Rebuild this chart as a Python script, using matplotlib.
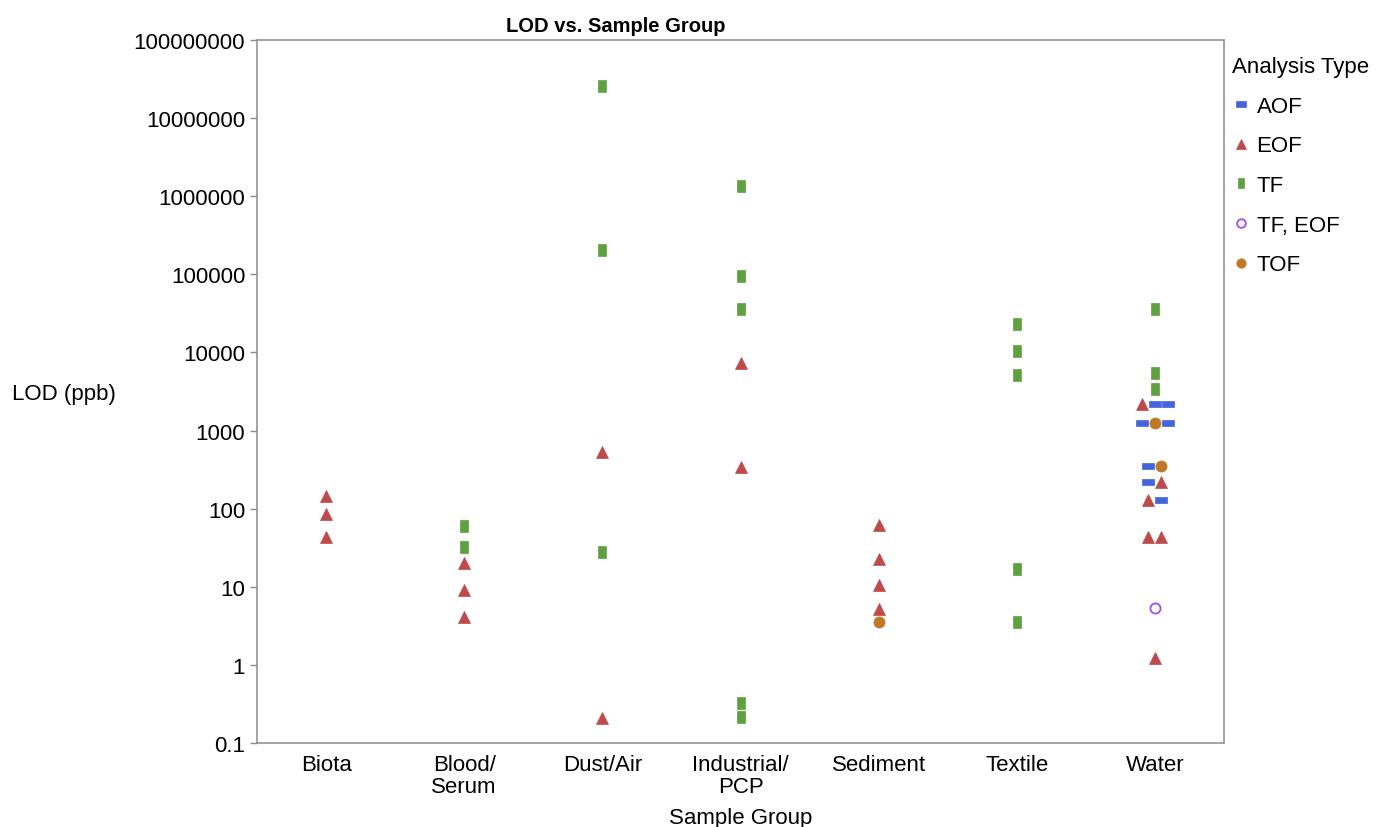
import matplotlib
matplotlib.use("Agg")
import matplotlib.pyplot as plt
from matplotlib.lines import Line2D
import numpy as np

plt.rcParams['font.family'] = ['Liberation Sans', 'DejaVu Sans']

categories = ["Biota", "Blood/\nSerum", "Dust/Air", "Industrial/\nPCP",
              "Sediment", "Textile", "Water"]
analysis_types = ["AOF", "EOF", "TF", "TF, EOF", "TOF"]

# long-form data, order within a tie = left to right
group = (["Biota"] * 3
         + ["Blood/\nSerum"] * 5
         + ["Dust/Air"] * 5
         + ["Industrial/\nPCP"] * 7
         + ["Sediment"] * 5
         + ["Textile"] * 5
         + ["Water"] * 19)
analysis = (["EOF", "EOF", "EOF"]
            + ["TF", "TF", "EOF", "EOF", "EOF"]
            + ["TF", "TF", "EOF", "TF", "EOF"]
            + ["TF", "TF", "TF", "EOF", "EOF", "TF", "TF"]
            + ["EOF", "EOF", "EOF", "EOF", "TOF"]
            + ["TF", "TF", "TF", "TF", "TF"]
            + ["TF", "TF", "TF",
               "EOF", "AOF", "AOF",
               "AOF", "TOF", "AOF",
               "AOF", "TOF",
               "AOF", "EOF",
               "EOF", "AOF",
               "EOF", "EOF",
               "TF, EOF", "EOF"])
lod = ([146, 85, 43]
       + [60, 32, 20, 9, 4.1]
       + [2.6e7, 2.07e5, 526, 27.7, 0.21]
       + [1.37e6, 9.4e4, 3.65e4, 7230, 338, 0.325, 0.215]
       + [61, 22.5, 10.5, 5.2, 3.5]
       + [22800, 10300, 5080, 16.8, 3.5]
       + [36500, 5400, 3400,
          2160, 2160, 2160,
          1236, 1236, 1236,
          348, 348,
          218, 218,
          128, 128,
          43, 43,
          5.3, 1.22])

dash = [(-1, -0.5), (1, -0.5), (1, 0.5), (-1, 0.5), (-1, -0.5)]
bar = [(-0.3, -0.5), (0.3, -0.5), (0.3, 0.5), (-0.3, 0.5), (-0.3, -0.5)]
styles = {
    "AOF": dict(marker=dash, color="#4664dc", ms=8.6, mfc="#4664dc"),
    "EOF": dict(marker="^", color="#be4b4b", ms=8, mfc="#be4b4b"),
    "TF": dict(marker=bar, color="#5fa041", ms=8.6, mfc="#5fa041"),
    "TF, EOF": dict(marker="o", color="#a050e6", ms=7.3, mfc="none", mew=1.3),
    "TOF": dict(marker="o", color="#c07828", ms=8, mfc="#c07828"),
}

# dodge points that share a group and value
xpos = np.array([categories.index(g) for g in group], dtype=float)
spacing = 0.095
keys = list(zip(group, lod))
for k in set(keys):
    idx = [i for i, kk in enumerate(keys) if kk == k]
    n = len(idx)
    for j, i in enumerate(idx):
        xpos[i] += (j - (n - 1) / 2) * spacing

fig = plt.figure(figsize=(13.76, 8.28), dpi=100)
ax = fig.add_axes([257 / 1376, 84 / 828, 967 / 1376, 703 / 828])

lod = np.array(lod)
analysis = np.array(analysis)
for t in analysis_types:
    m = analysis == t
    st = dict(styles[t])
    mew = st.pop("mew", 0.5)
    ax.plot(xpos[m], lod[m], ls="none", mec=st["color"], mew=mew, **st)

ax.set_yscale("log")
ax.set_ylim(0.1, 1e8)
ax.set_xlim(-0.5, 6.5)
yt = [10.0 ** k for k in range(-1, 9)]
ax.set_yticks(yt)
ax.set_yticklabels(["0.1"] + [str(int(v)) for v in yt[1:]])
ax.yaxis.set_minor_locator(matplotlib.ticker.NullLocator())
ax.set_xticks(range(len(categories)))
ax.set_xticklabels(categories, linespacing=1.05)
ax.tick_params(axis="x", length=0, pad=8, labelsize=16)
ax.tick_params(axis="y", length=5, width=1, color="#8c8c8c", pad=3.5, labelsize=16)
for s in ax.spines.values():
    s.set_color("#8c8c8c")
    s.set_linewidth(1.1)
ax.set_xlabel("Sample Group", fontsize=16, labelpad=7)

fig.text(12 / 1376, 1 - 395 / 828, "LOD (ppb)", fontsize=16, ha="left", va="center")
fig.text(616 / 1376, 1 - 27 / 828, "LOD vs. Sample Group", fontsize=14.5,
         fontweight="bold", ha="center", va="center")

handles = []
for t in analysis_types:
    st = dict(styles[t])
    mew = st.pop("mew", 0.5)
    st["ms"] = st["ms"] * 0.85
    handles.append(Line2D([], [], ls="none", mec=st["color"], mew=mew, label=t, **st))
fig.legend(handles=handles, loc="upper left", bbox_to_anchor=(1221 / 1376, 1 - 46 / 828),
           frameon=False, title="Analysis Type", alignment="left", fontsize=16,
           title_fontsize=16, handlelength=0.8, handletextpad=0.3, labelspacing=0.84,
           borderpad=0)

fig.savefig("out.png", dpi=100)
